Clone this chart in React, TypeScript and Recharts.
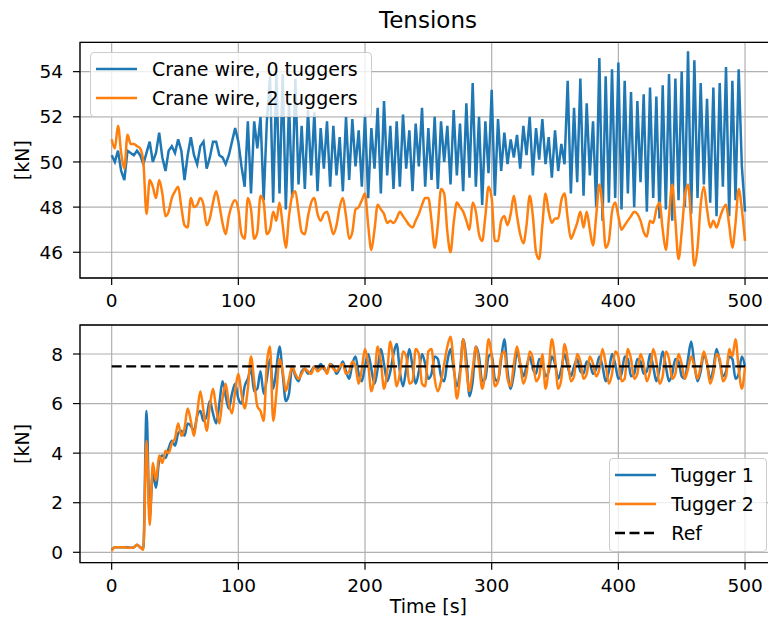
import React from "react";
import { LineChart, Line, XAxis, YAxis, CartesianGrid, Legend, ReferenceArea } from "recharts";

const FONT = "'DejaVu Sans', sans-serif";
const BLUE = "#1f77b4";
const ORANGE = "#ff7f0e";

// sample times, one every 2.5 s from 0 to 500 s
const sampleStep = 2.5;
const timeS = Array.from({ length: 201 }, (_, i) => i * sampleStep);
const timeTicks = [0, 100, 200, 300, 400, 500];
const timeDomain = [-25, 525];

const topTicks = [46, 48, 50, 52, 54];
const topDomain = [44.86, 55.3];
const bottomTicks = [0, 2, 4, 6, 8];
const bottomDomain = [-0.42, 9.17];

const refTime = [0, 500];
const refTension = 7.5;

const topLegendOrder = ["Crane wire, 0 tuggers", "Crane wire, 2 tuggers"];
const bottomLegendOrder = ["Tugger 1", "Tugger 2", "Ref"];

// crane wire tension [kN], no tuggers
const crane0 = [
  50.3, 50.0, 50.5, 49.6, 49.2, 50.5, 50.4, 50.3, 50.5, 50.3,
  49.9, 50.4, 50.9, 50.0, 50.4, 51.3, 50.2, 49.6, 50.5, 50.7,
  50.4, 51.0, 50.5, 49.2, 50.3, 51.1, 50.3, 49.9, 50.7, 50.9,
  49.7, 50.2, 50.9, 50.9, 50.3, 50.2, 49.9, 50.3, 50.9, 51.5,
  50.9, 49.8, 48.9, 51.8, 48.6, 51.8, 50.6, 52.0, 48.3, 51.8,
  53.8, 48.2, 53.9, 48.6, 53.9, 47.9, 52.6, 48.4, 53.7, 49.0,
  51.6, 48.8, 52.3, 49.4, 52.2, 48.7, 51.5, 49.7, 51.8, 48.9,
  51.6, 49.4, 51.1, 48.7, 52.0, 49.2, 51.9, 49.8, 51.4, 48.9,
  52.1, 48.4, 51.5, 49.7, 52.4, 48.6, 52.7, 49.4, 51.6, 48.8,
  51.8, 48.9, 52.1, 49.7, 51.4, 48.7, 51.7, 49.8, 52.4, 48.9,
  51.5, 49.2, 52.0, 48.8, 51.8, 50.0, 51.6, 49.0, 52.3, 49.4,
  51.7, 48.7, 52.6, 49.3, 53.5, 48.9, 52.0, 48.1, 51.8, 49.5,
  53.2, 48.5, 51.9, 49.6, 51.3, 49.9, 51.0, 50.2, 51.2, 49.7,
  51.6, 50.3, 52.0, 49.4, 51.5, 50.1, 51.9, 49.9, 51.1, 49.3,
  51.4, 49.6, 50.8, 49.9, 53.6, 48.6, 52.4, 49.1, 53.7, 48.5,
  52.6, 49.4, 51.8, 48.0, 54.6, 47.4, 53.8, 48.2, 54.1, 48.4,
  54.4, 47.9, 53.6, 48.6, 53.1, 48.0, 52.7, 49.1, 53.0, 47.8,
  53.3, 48.4, 52.9, 47.5, 53.4, 47.9, 53.9, 47.4, 53.7, 48.3,
  54.0, 48.0, 54.9, 47.7, 54.5, 48.4, 53.5, 49.0, 52.8, 48.2,
  53.3, 47.6, 53.5, 48.9, 54.2, 47.6, 53.6, 48.3, 54.1, 49.8,
  47.8,
];

// crane wire tension [kN], two tuggers
const crane2 = [
  51.0, 50.6, 51.6, 50.4, 49.7, 51.2, 50.8, 50.8, 50.7, 50.6,
  50.0, 47.7, 49.2, 48.9, 48.4, 49.2, 48.6, 47.6, 47.8, 48.4,
  48.7, 48.9, 48.0, 47.2, 47.1, 48.4, 48.0, 48.1, 48.4, 48.1,
  47.2, 47.5, 48.2, 48.7, 48.1, 47.3, 46.8, 47.6, 48.1, 48.3,
  47.9, 46.8, 46.6, 48.4, 47.9, 46.6, 46.9, 48.5, 48.2, 46.8,
  47.0, 47.8, 47.4, 48.2, 47.2, 46.2, 47.6, 48.5, 48.7, 47.8,
  46.9, 46.8, 47.6, 48.2, 48.4, 47.7, 47.4, 47.7, 47.8, 47.3,
  46.8, 47.2, 48.0, 48.4, 47.6, 46.6, 46.9, 47.9, 48.0, 48.3,
  48.6, 47.2, 46.1, 47.0, 48.1, 47.9, 47.7, 47.3, 47.4, 47.3,
  47.5, 47.8, 47.6, 47.4, 47.2, 47.1, 47.4, 47.7, 48.1, 48.4,
  48.4, 47.4, 46.2, 47.2, 48.8, 48.6, 46.9, 46.0, 47.3, 48.2,
  48.0, 47.8, 47.4, 47.0, 48.2, 47.8, 46.8, 46.5, 47.6, 48.9,
  48.4, 46.5, 46.5, 47.4, 47.6, 47.2, 47.7, 48.5, 47.6, 46.8,
  46.4, 47.2, 48.5, 47.6, 46.0, 45.7, 47.2, 48.6, 47.8, 47.3,
  47.5, 47.5, 48.3, 48.6, 47.5, 46.6, 46.9, 47.3, 47.8, 47.1,
  47.8, 47.0, 46.3, 47.6, 49.0, 48.0, 46.2, 46.5, 47.8, 48.2,
  47.6, 47.0, 47.2, 47.4, 47.6, 47.8, 47.7, 47.4, 46.9, 46.7,
  47.4, 47.3, 47.9, 48.2, 47.0, 46.1, 47.6, 49.0, 47.4, 45.7,
  46.9, 48.5, 49.0, 47.3, 45.4, 46.2, 48.1, 48.9, 47.9, 47.1,
  47.4, 47.1, 47.5, 47.9, 48.1, 47.2, 46.2, 47.3, 48.8, 47.9,
  46.5,
];

// tugger tensions [kN]
const tugger1 = [
  0.1, 0.2, 0.2, 0.2, 0.2, 0.2, 0.18, 0.2, 0.3, 0.2,
  0.15, 5.7, 1.4, 3.2, 2.6, 3.7, 3.9, 3.8, 4.2, 4.5,
  4.3, 4.8, 4.9, 4.7, 5.2, 5.1, 4.9, 5.5, 5.7, 5.3,
  5.5, 6.1, 5.6, 5.2, 6.0, 6.9, 6.3, 5.8, 6.4, 6.8,
  6.2, 6.0, 6.7, 7.0, 7.4, 6.5, 6.6, 7.3, 6.4, 7.0,
  7.8, 6.6, 7.4, 8.3, 7.2, 6.1, 6.4, 7.5, 7.1, 6.9,
  7.3, 7.4, 7.2, 7.3, 7.5, 7.4, 7.6, 7.4, 7.3, 7.6,
  7.5, 7.2, 7.4, 7.7, 7.3, 7.0, 7.6, 7.9, 7.2, 6.9,
  7.5, 8.0, 7.4, 6.8, 7.4, 8.2, 7.6, 6.9, 7.3, 8.0,
  8.4, 7.3, 6.7, 7.4, 8.2, 7.5, 6.8, 7.3, 8.0, 7.6,
  7.0, 7.2, 7.9, 7.8, 7.1, 6.9, 7.7, 8.2, 7.4, 6.7,
  7.3, 8.6, 7.8, 6.3, 6.9, 8.3, 7.9, 6.9, 7.0, 7.9,
  8.0, 7.0, 6.9, 7.8, 8.6, 7.3, 6.6, 7.2, 8.1, 7.6,
  7.1, 7.5, 7.9, 7.4, 7.2, 7.8, 7.7, 7.1, 7.3, 7.9,
  7.6, 7.0, 7.4, 8.0, 7.5, 7.1, 7.5, 7.8, 7.3, 7.2,
  7.7, 7.6, 7.2, 7.4, 7.9, 7.5, 6.9, 7.3, 8.0, 7.6,
  7.0, 7.2, 7.9, 7.8, 7.1, 7.2, 7.8, 7.7, 7.2, 7.3,
  8.0, 7.5, 6.9, 7.4, 8.1, 7.5, 6.9, 7.2, 7.8, 7.7,
  7.1, 7.0, 7.8, 8.5, 7.6, 6.9, 7.3, 8.0, 7.6, 7.0,
  7.4, 8.2, 7.7, 7.1, 7.3, 7.9, 7.8, 7.0, 7.2, 7.9,
  7.5,
];

const tugger2 = [
  0.05, 0.2, 0.2, 0.2, 0.2, 0.18, 0.18, 0.2, 0.3, 0.2,
  0.1, 4.5, 1.1, 3.6, 2.9, 3.9, 3.6, 4.1, 4.0, 4.4,
  4.6, 5.2, 4.7, 5.0, 5.8, 5.3, 4.7, 5.6, 6.5, 5.7,
  4.9, 5.9, 6.6, 5.8, 5.2, 6.2, 6.8, 6.0, 5.6, 6.5,
  7.2, 6.4, 5.8, 6.6, 7.9, 6.9, 5.9, 5.7, 5.3, 7.6,
  8.3, 5.3, 6.4, 7.8, 7.3, 6.5, 7.0, 7.5, 7.2, 7.0,
  7.2, 7.4, 7.3, 7.2, 7.5, 7.3, 7.4, 7.5, 7.2, 7.6,
  7.4, 7.3, 7.5, 7.6, 7.2, 7.3, 7.7, 7.5, 6.8, 7.4,
  8.2, 7.6, 6.5, 7.1, 8.3, 7.7, 6.6, 7.3, 8.5, 7.7,
  6.7, 7.2, 8.1, 7.9, 6.8, 6.9, 8.2, 8.0, 6.8, 6.7,
  8.1, 8.2, 7.0, 6.5, 6.9, 7.6, 8.3, 8.7, 7.6, 6.2,
  7.1, 8.6, 7.4, 6.5, 7.4, 8.3, 7.6, 6.6, 7.3, 8.6,
  7.9, 6.7, 6.9, 7.9, 8.1, 7.0, 6.7, 7.6, 8.3, 7.6,
  6.8, 7.2, 8.1, 7.8, 6.9, 7.1, 8.0, 6.6, 7.4, 8.6,
  7.8, 6.6, 7.0, 8.4, 7.8, 6.9, 7.1, 8.0, 7.7, 7.0,
  7.2, 7.9, 7.6, 7.1, 7.4, 8.2, 7.6, 6.8, 7.2, 8.1,
  7.9, 6.9, 7.0, 8.2, 7.8, 7.0, 7.2, 8.0, 7.6, 6.9,
  7.3, 8.2, 7.7, 6.8, 7.1, 8.1, 7.8, 7.0, 7.2, 8.0,
  7.6, 7.0, 7.4, 7.9, 7.5, 7.0, 7.5, 8.1, 7.6, 6.8,
  7.2, 8.0, 7.8, 6.9, 7.1, 8.2, 7.9, 8.6, 7.4, 6.6,
  7.5,
];

const topRows = timeS.map((t, i) => ({ t, crane0: crane0[i], crane2: crane2[i] }));
const bottomRows = timeS.map((t, i) => ({ t, tugger1: tugger1[i], tugger2: tugger2[i] }));
const refRows = refTime.map((t) => ({ t, ref: refTension }));

const tickStyle = { fontSize: 18.5, fill: "#000", fontFamily: FONT };
const labelStyle = { fontSize: 19, fill: "#000", fontFamily: FONT };

function LegendBox({ payload, order, width, height }: any) {
  const items = [...(payload || [])].sort((a: any, b: any) => order.indexOf(a.value) - order.indexOf(b.value));
  return (
    <div
      style={{
        width,
        height,
        boxSizing: "border-box",
        background: "rgba(255,255,255,0.8)",
        border: "1px solid #cccccc",
        borderRadius: 4,
        paddingTop: 1,
      }}
    >
      {items.map((p: any) => (
        <div key={p.value} style={{ display: "flex", alignItems: "center", height: 29 }}>
          <svg width={52} height={10} style={{ flex: "none" }}>
            <line
              x1={5}
              x2={46}
              y1={5}
              y2={5}
              stroke={p.color}
              strokeWidth={2.5}
              strokeDasharray={p.payload?.strokeDasharray}
            />
          </svg>
          <span style={{ marginLeft: 9, fontSize: 19, fontFamily: FONT, color: "#000", whiteSpace: "nowrap" }}>
            {p.value}
          </span>
        </div>
      ))}
    </div>
  );
}

export default function App() {
  return (
    <div style={{ position: "absolute", left: 0, top: 0, width: 768, height: 624, overflow: "hidden", background: "#fff" }}>
      <div
        style={{
          position: "absolute",
          left: 328,
          top: 9,
          width: 200,
          textAlign: "center",
          fontFamily: FONT,
          fontSize: 23,
          lineHeight: "23px",
          color: "#000",
        }}
      >
        Tensions
      </div>

      <div style={{ position: "absolute", left: 0, top: 0 }}>
        <LineChart width={800} height={310} data={topRows} margin={{ top: 42.3, right: 23.3, bottom: 0, left: 0 }}>
          <CartesianGrid stroke="#b0b0b0" strokeWidth={1.2} />
          <XAxis
            dataKey="t"
            type="number"
            domain={timeDomain}
            ticks={timeTicks}
            allowDataOverflow
            height={32}
            tickSize={7}
            tickMargin={9}
            axisLine={false}
            tickLine={{ stroke: "#000", strokeWidth: 1.2 }}
            tick={tickStyle}
          />
          <YAxis
            type="number"
            domain={topDomain}
            ticks={topTicks}
            allowDataOverflow
            width={80}
            tickSize={7}
            tickMargin={10}
            axisLine={false}
            tickLine={{ stroke: "#000", strokeWidth: 1.2 }}
            tick={tickStyle}
            label={{ value: "[kN]", angle: -90, position: "center", dx: -18, ...labelStyle }}
          />
          <Line type="linear" dataKey="crane0" name="Crane wire, 0 tuggers" stroke={BLUE} strokeWidth={2.5} dot={false} activeDot={false} isAnimationActive={false} />
          <Line type="monotone" dataKey="crane2" name="Crane wire, 2 tuggers" stroke={ORANGE} strokeWidth={2.5} dot={false} activeDot={false} isAnimationActive={false} />
          <ReferenceArea x1={timeDomain[0]} x2={timeDomain[1]} y1={topDomain[0]} y2={topDomain[1]} fill="none" stroke="#000" strokeWidth={1.3} ifOverflow="visible" />
          <Legend
            layout="horizontal"
            verticalAlign="middle"
            align="center"
            wrapperStyle={{ left: 90, top: 52.3, width: 282, height: 65 }}
            content={(props: any) => <LegendBox payload={props.payload} order={topLegendOrder} width={282} height={65} />}
          />
        </LineChart>
      </div>

      <div style={{ position: "absolute", left: 0, top: 310 }}>
        <LineChart width={800} height={314} data={bottomRows} margin={{ top: 15, right: 23.3, bottom: 0, left: 0 }}>
          <CartesianGrid stroke="#b0b0b0" strokeWidth={1.2} />
          <XAxis
            dataKey="t"
            type="number"
            domain={timeDomain}
            ticks={timeTicks}
            allowDataOverflow
            height={61.3}
            tickSize={7}
            tickMargin={9}
            axisLine={false}
            tickLine={{ stroke: "#000", strokeWidth: 1.2 }}
            tick={tickStyle}
            label={{ value: "Time [s]", position: "insideBottom", offset: 11, ...labelStyle }}
          />
          <YAxis
            type="number"
            domain={bottomDomain}
            ticks={bottomTicks}
            allowDataOverflow
            width={80}
            tickSize={7}
            tickMargin={10}
            axisLine={false}
            tickLine={{ stroke: "#000", strokeWidth: 1.2 }}
            tick={tickStyle}
            label={{ value: "[kN]", angle: -90, position: "center", dx: -18, ...labelStyle }}
          />
          <Line type="monotone" dataKey="tugger1" name="Tugger 1" stroke={BLUE} strokeWidth={2.5} dot={false} activeDot={false} isAnimationActive={false} />
          <Line type="monotone" dataKey="tugger2" name="Tugger 2" stroke={ORANGE} strokeWidth={2.5} dot={false} activeDot={false} isAnimationActive={false} />
          <Line data={refRows} type="linear" dataKey="ref" name="Ref" stroke="#000" strokeWidth={2.3} strokeDasharray="10 4.5" dot={false} activeDot={false} isAnimationActive={false} />
          <ReferenceArea x1={timeDomain[0]} x2={timeDomain[1]} y1={bottomDomain[0]} y2={bottomDomain[1]} fill="none" stroke="#000" strokeWidth={1.3} ifOverflow="visible" />
          <Legend
            layout="horizontal"
            verticalAlign="middle"
            align="center"
            wrapperStyle={{ left: 609.3, top: 148, width: 158, height: 94 }}
            content={(props: any) => <LegendBox payload={props.payload} order={bottomLegendOrder} width={158} height={94} />}
          />
        </LineChart>
      </div>
    </div>
  );
}
